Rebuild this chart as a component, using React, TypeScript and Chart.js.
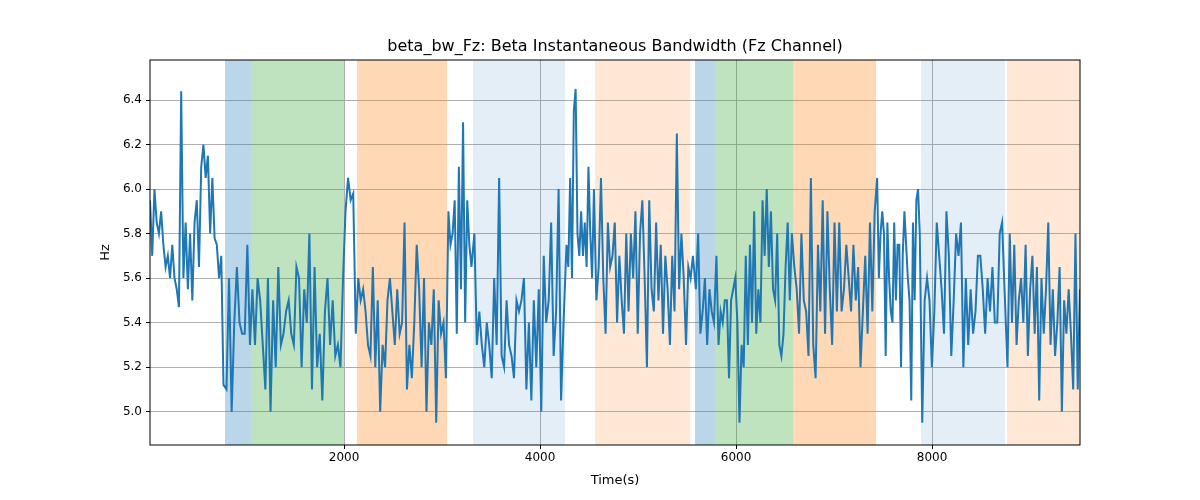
import React, { useEffect, useRef } from "react";
import { Chart, registerables } from "chart.js";
Chart.register(...registerables);

const xTicks = [2000, 4000, 6000, 8000];
const yTicks = [5.0, 5.2, 5.4, 5.6, 5.8, 6.0, 6.2, 6.4];

// shaded spans: [start, end, colour]
const spans: [number, number, string][] = [
  [786, 1051, "rgba(31,119,180,0.3)"],
  [1051, 2000, "rgba(44,160,44,0.3)"],
  [2133, 3051, "rgba(255,127,14,0.3)"],
  [3316, 4255, "rgba(31,119,180,0.12)"],
  [4561, 5531, "rgba(255,127,14,0.17)"],
  [5582, 5786, "rgba(31,119,180,0.3)"],
  [5786, 6582, "rgba(44,160,44,0.3)"],
  [6582, 7429, "rgba(255,127,14,0.3)"],
  [7888, 8745, "rgba(31,119,180,0.12)"],
  [8765, 9510, "rgba(255,127,14,0.17)"],
];

// signal segments: [start time, end time, values]
const seg1 = [5.95, 5.7, 6.0, 5.85, 5.8, 5.9, 5.75, 5.65, 5.7, 5.6, 5.75, 5.6, 5.55, 5.47, 6.44, 5.6, 5.85, 5.55, 5.8, 5.5, 5.85, 5.95, 5.65, 6.1, 6.2, 6.05, 6.15, 5.8, 6.05, 5.78, 5.75, 5.6, 5.7, 5.12];
const seg2 = [5.1, 5.6, 5.0, 5.4, 5.65, 5.4, 5.35, 5.35, 5.75, 5.3];
const seg3 = [5.55, 5.3, 5.6, 5.5, 5.3, 5.1, 5.6, 5.0, 5.5, 5.2, 5.65, 5.3, 5.35, 5.45, 5.5, 5.35, 5.3, 5.65, 5.6, 5.2, 5.55, 5.4, 5.8, 5.1, 5.65, 5.2, 5.35, 5.05, 5.45, 5.6, 5.3, 5.5, 5.25, 5.3, 5.2, 5.6];
const seg4 = [5.9, 6.05, 5.95, 5.98, 5.35];
const seg5 = [5.6, 5.5, 5.55, 5.45, 5.3, 5.25, 5.65, 5.2, 5.5, 5.0, 5.3, 5.2, 5.5, 5.6, 5.45, 5.3, 5.55, 5.35, 5.4, 5.85, 5.1, 5.3, 5.15, 5.4, 5.75, 5.55, 5.2, 5.6, 5.0, 5.4, 5.3, 5.55, 4.95, 5.5, 5.35, 5.4, 5.15];
const seg6 = [5.9, 5.75, 5.8, 5.95, 5.35, 6.1, 5.55, 6.3, 5.4, 5.95, 5.75, 5.65];
const seg7 = [5.8, 5.3, 5.45, 5.3, 5.2, 5.4, 5.3, 5.15, 5.6, 5.3, 6.05, 5.25, 5.2, 5.5, 5.3, 5.25, 5.15, 5.5, 5.45, 5.5, 5.6, 5.1, 5.4, 5.05, 5.5, 5.2, 5.55, 5.0, 5.7, 5.4, 5.5, 5.85, 5.25, 5.45, 6.0, 5.05, 5.4];
const seg8 = [5.75, 5.65, 6.05, 5.6, 6.35, 6.45, 5.8, 5.7, 5.9, 5.7, 5.85, 5.65, 6.1, 5.8, 5.6, 6.0];
const seg9 = [5.5, 5.65, 6.05, 5.6, 5.35, 5.85, 5.65, 5.7, 5.85, 5.4, 5.7, 5.5, 5.35, 5.8, 5.45, 5.8, 5.6, 5.9, 5.35, 5.8, 5.95, 5.6, 5.2, 5.95, 5.55, 5.45, 5.85, 5.5, 5.75, 5.35, 5.7, 5.55, 5.3, 5.7, 5.45, 6.25, 5.55, 5.8, 5.6, 5.3, 5.65, 5.6, 5.7];
const seg10 = [5.55, 5.8, 5.35, 5.45, 5.6, 5.3, 5.55, 5.45, 5.4];
const seg11 = [5.7, 5.3, 5.45, 5.4, 5.5, 5.5, 5.15, 5.5, 5.55, 5.6, 5.4, 4.95, 5.3, 5.2, 5.7, 5.3, 5.75, 5.4, 5.9, 5.35, 5.55, 5.4, 5.95, 5.7, 6.0, 5.65, 5.9, 5.55, 5.5, 5.8, 5.3, 5.25, 5.35, 5.65, 5.85, 5.5, 5.8];
const seg12 = [5.65, 5.55, 5.35, 5.8, 5.5, 5.45, 5.25, 6.05, 5.3, 5.15, 5.75, 5.45, 5.95, 5.35, 5.9, 5.55, 5.3, 5.85, 5.45, 5.85, 5.45, 5.55, 5.75, 5.6, 5.45, 5.75, 5.5, 5.65, 5.2, 5.45, 5.7, 5.35, 5.85, 5.45, 5.9];
const seg13 = [6.05, 5.6, 5.8, 5.9, 5.8, 5.25, 5.85, 5.6, 5.45, 5.4, 5.85, 5.5, 5.75, 5.75, 5.2, 5.7, 5.9, 5.75, 5.6, 5.5, 5.05, 5.85, 5.5, 5.95, 6.0, 5.8];
const seg14 = [4.95, 5.5, 5.6, 5.5, 5.2, 5.45, 5.85, 5.7, 5.55, 5.35, 5.9, 5.7, 5.25, 5.5, 5.8, 5.7, 5.85, 5.2, 5.6, 5.3, 5.55, 5.35, 5.45, 5.7, 5.7, 5.55, 5.35, 5.6, 5.45, 5.65, 5.4, 5.4, 5.8, 5.85, 5.55];
const seg15 = [5.2, 5.8, 5.4, 5.75, 5.3, 5.5, 5.6, 5.4, 5.75, 5.25, 5.55, 5.7, 5.35, 5.65, 5.05, 5.6, 5.35, 5.55, 5.85, 5.3, 5.55, 5.25, 5.4, 5.65, 5.0, 5.5, 5.35, 5.55, 5.35, 5.1, 5.8, 5.1, 5.55];

const segments: [number, number, number[]][] = [
  [20, 770, seg1], [800, 1040, seg2], [1065, 1990, seg3], [2015, 2120, seg4],
  [2145, 3040, seg5], [3065, 3300, seg6], [3330, 4240, seg7], [4270, 4550, seg8],
  [4575, 5560, seg9], [5590, 5775, seg10], [5800, 6570, seg11], [6595, 7415, seg12],
  [7440, 7875, seg13], [7900, 8740, seg14], [8770, 9510, seg15],
];

function buildPoints() {
  const pts: { x: number; y: number }[] = [];
  for (const [a, b, vals] of segments) {
    const n = vals.length;
    vals.forEach((v, i) => pts.push({ x: a + ((b - a) * i) / Math.max(n - 1, 1), y: v }));
  }
  return pts;
}

const FONT = "'DejaVu Sans', sans-serif";

export default function App() {
  const ref = useRef<HTMLCanvasElement>(null);
  useEffect(() => {
    const spanPlugin = {
      id: "spans",
      beforeDatasetsDraw(chart: any) {
        const { ctx, chartArea: a, scales } = chart;
        ctx.save();
        for (const [s, e, c] of spans) {
          const x1 = scales.x.getPixelForValue(s);
          const x2 = scales.x.getPixelForValue(e);
          ctx.fillStyle = c;
          ctx.fillRect(x1, a.top, x2 - x1, a.bottom - a.top);
        }
        ctx.restore();
      },
      afterDraw(chart: any) {
        const { ctx, chartArea: a } = chart;
        ctx.save();
        ctx.strokeStyle = "#000";
        ctx.lineWidth = 1;
        ctx.strokeRect(a.left, a.top, a.right - a.left, a.bottom - a.top);
        ctx.fillStyle = "#000";
        ctx.font = `16px ${FONT}`;
        ctx.textAlign = "center";
        ctx.textBaseline = "bottom";
        ctx.fillText("beta_bw_Fz: Beta Instantaneous Bandwidth (Fz Channel)", (a.left + a.right) / 2, a.top - 5);
        ctx.font = `13px ${FONT}`;
        ctx.textBaseline = "middle";
        ctx.fillText("Time(s)", (a.left + a.right) / 2, 481);
        ctx.translate(106, (a.top + a.bottom) / 2);
        ctx.rotate(-Math.PI / 2);
        ctx.fillText("Hz", 0, 0);
        ctx.restore();
      },
    };
    const chart = new Chart(ref.current!, {
      type: "line",
      data: {
        datasets: [{
          data: buildPoints(),
          borderColor: "#1f77b4",
          borderWidth: 2,
          pointRadius: 0,
          tension: 0,
        }],
      },
      options: {
        animation: false,
        responsive: false,
        layout: { padding: { top: 60, right: 120, left: 0, bottom: 0 } },
        plugins: { legend: { display: false }, tooltip: { enabled: false }, title: { display: false } },
        scales: {
          x: {
            type: "linear", min: 20, max: 9510,
            afterBuildTicks: (s: any) => { s.ticks = xTicks.map((v) => ({ value: v })); },
            afterFit: (s: any) => { s.height = 55; },
            grid: { color: "#b0b0b0", drawTicks: true, tickLength: 4, tickColor: "#000" },
            border: { display: false },
            ticks: { color: "#000", font: { family: FONT, size: 12 }, maxRotation: 0, padding: 2, callback: (v: any) => String(v) },
          },
          y: {
            min: 4.85, max: 6.58,
            afterBuildTicks: (s: any) => { s.ticks = yTicks.map((v) => ({ value: v })); },
            afterFit: (s: any) => { s.width = 150; },
            grid: { color: "#b0b0b0", drawTicks: true, tickLength: 4, tickColor: "#000" },
            border: { display: false },
            ticks: { color: "#000", font: { family: FONT, size: 12 }, padding: 4, callback: (v: any) => Number(v).toFixed(1) },
          },
        },
      },
      plugins: [spanPlugin],
    });
    return () => chart.destroy();
  }, []);
  return (
    <div style={{ position: "fixed", left: 0, top: 0, width: 1200, height: 500, background: "#fff" }}>
      <canvas ref={ref} width={1200} height={500} style={{ width: 1200, height: 500 }} />
    </div>
  );
}
